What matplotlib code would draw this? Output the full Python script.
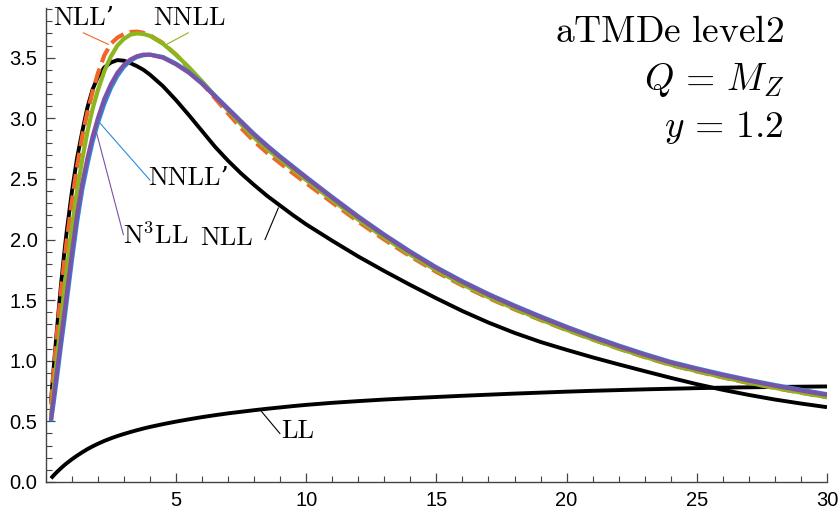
import matplotlib
matplotlib.use("Agg")
import matplotlib.pyplot as plt
from matplotlib.ticker import MultipleLocator, FormatStrFormatter

plt.rcParams["mathtext.fontset"] = "cm"

# b grid shared by all curves
b = [0.2, 0.3, 0.4, 0.5, 0.6, 0.7, 0.8, 1.0, 1.2, 1.4, 1.6, 1.8, 2.0, 2.25, 2.5, 2.75,
     3.0, 3.25, 3.5, 3.75, 4.0, 4.5, 5.0, 5.5, 6.0, 6.5, 7.0, 7.5, 8.0, 8.5, 9.0, 9.5,
     10, 11, 12, 13, 14, 15, 16, 17, 18, 19, 20, 21, 22, 23, 24, 25, 26, 27, 28, 29, 30]

ll = [0.03, 0.054, 0.076, 0.097, 0.117, 0.136, 0.154, 0.187, 0.217, 0.245, 0.271, 0.294,
      0.315, 0.339, 0.36, 0.379, 0.396, 0.412, 0.427, 0.441, 0.454, 0.477, 0.498, 0.517,
      0.535, 0.551, 0.566, 0.579, 0.592, 0.604, 0.615, 0.626, 0.636, 0.653, 0.667, 0.68,
      0.691, 0.701, 0.711, 0.72, 0.729, 0.737, 0.745, 0.752, 0.758, 0.764, 0.769, 0.774,
      0.778, 0.781, 0.784, 0.786, 0.788]

nll = [0.66, 0.93, 1.19, 1.43, 1.66, 1.87, 2.06, 2.39, 2.67, 2.89, 3.09, 3.24, 3.34, 3.42,
       3.46, 3.48, 3.475, 3.455, 3.43, 3.40, 3.36, 3.265, 3.15, 3.025, 2.895, 2.765, 2.65,
       2.545, 2.45, 2.36, 2.28, 2.20, 2.125, 1.99, 1.86, 1.74, 1.625, 1.515, 1.41, 1.315,
       1.23, 1.155, 1.09, 1.028, 0.97, 0.914, 0.859, 0.807, 0.76, 0.718, 0.68, 0.647, 0.617]

nllp = [0.64, 0.91, 1.16, 1.39, 1.60, 1.80, 1.98, 2.31, 2.60, 2.85, 3.05, 3.22, 3.37, 3.52,
        3.615, 3.665, 3.695, 3.712, 3.715, 3.705, 3.685, 3.62, 3.525, 3.41, 3.29, 3.165,
        3.04, 2.92, 2.81, 2.715, 2.63, 2.545, 2.465, 2.305, 2.147, 1.999, 1.861, 1.733, 1.62,
        1.517, 1.424, 1.336, 1.253, 1.175, 1.10, 1.03, 0.965, 0.912, 0.862, 0.816, 0.775,
        0.736, 0.699]

nnll = [0.55, 0.76, 0.96, 1.16, 1.36, 1.55, 1.74, 2.09, 2.40, 2.66, 2.89, 3.08, 3.23, 3.39,
        3.51, 3.60, 3.655, 3.69, 3.70, 3.695, 3.68, 3.615, 3.525, 3.42, 3.305, 3.185, 3.065,
        2.95, 2.84, 2.745, 2.66, 2.575, 2.49, 2.325, 2.165, 2.015, 1.875, 1.745, 1.63, 1.525,
        1.43, 1.34, 1.255, 1.176, 1.101, 1.032, 0.967, 0.914, 0.864, 0.818, 0.776, 0.737,
        0.70]

nnllp = [0.50, 0.65, 0.81, 0.98, 1.15, 1.31, 1.48, 1.82, 2.14, 2.41, 2.62, 2.81, 2.96, 3.12,
         3.25, 3.35, 3.425, 3.475, 3.505, 3.52, 3.525, 3.506, 3.451, 3.381, 3.291, 3.186,
         3.081, 2.976, 2.871, 2.776, 2.686, 2.601, 2.516, 2.351, 2.191, 2.041, 1.901, 1.771,
         1.656, 1.551, 1.456, 1.366, 1.281, 1.201, 1.126, 1.056, 0.991, 0.938, 0.888, 0.842,
         0.80, 0.761, 0.724]

n3ll = [0.51, 0.69, 0.86, 1.03, 1.20, 1.37, 1.54, 1.88, 2.20, 2.46, 2.67, 2.85, 3.00, 3.16,
        3.28, 3.375, 3.44, 3.485, 3.512, 3.525, 3.525, 3.50, 3.445, 3.375, 3.285, 3.18,
        3.075, 2.97, 2.865, 2.77, 2.68, 2.595, 2.51, 2.345, 2.185, 2.035, 1.895, 1.765, 1.65,
        1.545, 1.45, 1.36, 1.275, 1.195, 1.12, 1.05, 0.985, 0.932, 0.882, 0.836, 0.794,
        0.755, 0.718]

ORANGE = "#f2652a"
GREEN = "#8cb51e"
BLUE = "#2a8be0"
PURPLE = "#7a52a6"

fig = plt.figure(figsize=(8.4, 5.11), dpi=100)
ax = fig.add_axes([0.0545, 0.0568, 0.930, 0.9276])

style = dict(solid_joinstyle="round", solid_capstyle="butt")
ax.plot(b, ll, color="black", lw=2.8, zorder=2, **style)
ax.plot(b, nll, color="black", lw=2.8, zorder=3, **style)
ax.plot(b, nllp, color=ORANGE, lw=3.0, ls=(0, (3.6, 1.6)), zorder=4)
ax.plot(b, nnll, color=GREEN, lw=3.0, zorder=5, **style)
ax.plot(b, nnllp, color=BLUE, lw=3.0, zorder=6, **style)
ax.plot(b, n3ll, color=PURPLE, lw=3.0, zorder=7, **style)

# curve labels with leader lines
labels = [
    ("NLL\u2019", (1.47, 3.83), (1.44, 3.705), (2.40, 3.61), ORANGE),
    ("NNLL", (5.50, 3.83), (5.47, 3.705), (4.64, 3.61), GREEN),
    ("NNLL\u2019", (5.50, 2.51), (4.00, 2.49), (2.02, 2.975), BLUE),
    (r"N$^3$LL", (4.23, 2.03), (2.98, 2.04), (1.95, 2.88), PURPLE),
    ("NLL", (6.96, 2.01), (8.42, 2.00), (8.93, 2.26), "black"),
    ("LL", (9.68, 0.42), (8.99, 0.40), (8.29, 0.58), "black"),
]
for text, pos, p0, p1, col in labels:
    ax.plot([p0[0], p1[0]], [p0[1], p1[1]], color=col, lw=0.8, zorder=8)
    ax.text(pos[0], pos[1], text, fontsize=19, ha="center", va="center",
            family=["cmr10", "DejaVu Serif"], zorder=9)

ax.text(28.35, 3.633, r"$\mathrm{aTMDe\ level2}$", fontsize=27, ha="right", va="baseline")
ax.text(28.35, 3.237, r"$Q\,=\,M_Z$", fontsize=27, ha="right", va="baseline")
ax.text(28.35, 2.849, r"$y\,=\,1.2$", fontsize=27, ha="right", va="baseline")

ax.set_xlim(0, 30)
ax.set_ylim(0, 3.91)
ax.xaxis.set_major_locator(MultipleLocator(5))
ax.xaxis.set_minor_locator(MultipleLocator(1))
ax.yaxis.set_major_locator(MultipleLocator(0.5))
ax.yaxis.set_minor_locator(MultipleLocator(0.1))
ax.yaxis.set_major_formatter(FormatStrFormatter("%.1f"))
ax.set_xticks([5, 10, 15, 20, 25, 30])

for side in ("top", "right"):
    ax.spines[side].set_visible(False)
for side in ("left", "bottom"):
    ax.spines[side].set_color("#444444")
    ax.spines[side].set_linewidth(1.0)

ax.tick_params(which="major", direction="in", length=6.5, width=0.9, color="#444444",
               labelsize=14.5, pad=6)
ax.tick_params(axis="x", which="major", pad=6.5)
ax.tick_params(which="minor", direction="in", length=4, width=0.8, color="#444444")
for lab in ax.get_xticklabels() + ax.get_yticklabels():
    lab.set_family("Liberation Sans")

fig.savefig("out.png", dpi=100)
